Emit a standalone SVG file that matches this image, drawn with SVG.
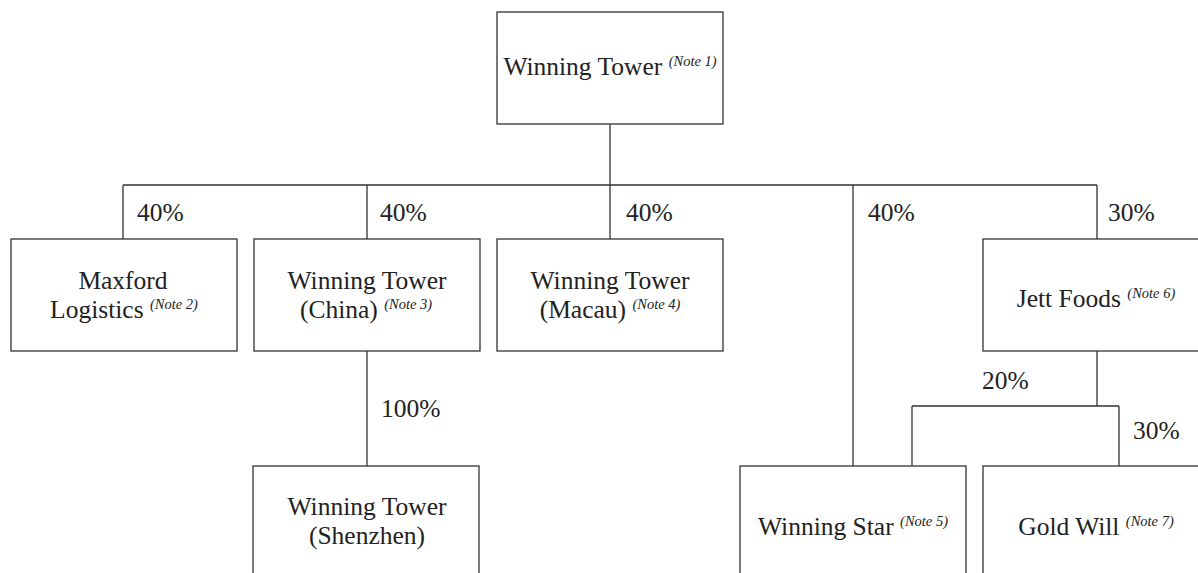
<svg xmlns="http://www.w3.org/2000/svg" width="1198" height="573" viewBox="0 0 1198 573">
<style>
.box{fill:#fff;stroke:#333;stroke-width:1.3}
.ln{fill:none;stroke:#333;stroke-width:1.3}
text{fill:#222}
.t{font-size:25.5px;text-anchor:middle}
.p{font-size:25.5px}
.n{font-size:14.5px;font-style:italic}
</style>
<rect width="1198" height="573" fill="#fff"/>
<g font-family="Liberation Serif, Times New Roman, DejaVu Serif, serif">
<g id="connectors">
<path class="ln" d="M610 124V185M123 185H1097M123 185V239M367 185V239M610 185V239M853 185V466M1097 185V239"/>
<path class="ln" d="M367 351V466"/>
<path class="ln" d="M1097 351V406M912 406H1119M912 406V466M1119 406V466"/>
<text class="p" x="137" y="221">40%</text>
<text class="p" x="380" y="221">40%</text>
<text class="p" x="626" y="221">40%</text>
<text class="p" x="868" y="221">40%</text>
<text class="p" x="1108" y="221">30%</text>
<text class="p" x="381" y="417">100%</text>
<text class="p" x="982" y="389">20%</text>
<text class="p" x="1133" y="439">30%</text>
</g>
<g id="n-top">
<rect class="box" x="497" y="12" width="226" height="112"/>
<text class="t" x="610" y="75">Winning Tower <tspan class="n" dy="-9">(Note 1)</tspan></text>
</g>
<g id="n-maxford">
<rect class="box" x="11" y="239" width="226" height="112"/>
<text class="t" x="123" y="289">Maxford</text>
<text class="t" x="124" y="318">Logistics <tspan class="n" dy="-9">(Note 2)</tspan></text>
</g>
<g id="n-china">
<rect class="box" x="254" y="239" width="226" height="112"/>
<text class="t" x="367" y="289">Winning Tower</text>
<text class="t" x="366" y="318">(China) <tspan class="n" dy="-9">(Note 3)</tspan></text>
</g>
<g id="n-macau">
<rect class="box" x="497" y="239" width="226" height="112"/>
<text class="t" x="610" y="289">Winning Tower</text>
<text class="t" x="610" y="318">(Macau) <tspan class="n" dy="-9">(Note 4)</tspan></text>
</g>
<g id="n-jett">
<rect class="box" x="983" y="239" width="226" height="112"/>
<text class="t" x="1096" y="307">Jett Foods <tspan class="n" dy="-9">(Note 6)</tspan></text>
</g>
<g id="n-shenzhen">
<rect class="box" x="253" y="466" width="226" height="120"/>
<text class="t" x="367" y="515">Winning Tower</text>
<text class="t" x="367" y="544">(Shenzhen)</text>
</g>
<g id="n-star">
<rect class="box" x="740" y="466" width="226" height="120"/>
<text class="t" x="853" y="535">Winning Star <tspan class="n" dy="-9">(Note 5)</tspan></text>
</g>
<g id="n-gold">
<rect class="box" x="983" y="466" width="226" height="120"/>
<text class="t" x="1096" y="535">Gold Will <tspan class="n" dy="-9">(Note 7)</tspan></text>
</g>
</g>
</svg>
